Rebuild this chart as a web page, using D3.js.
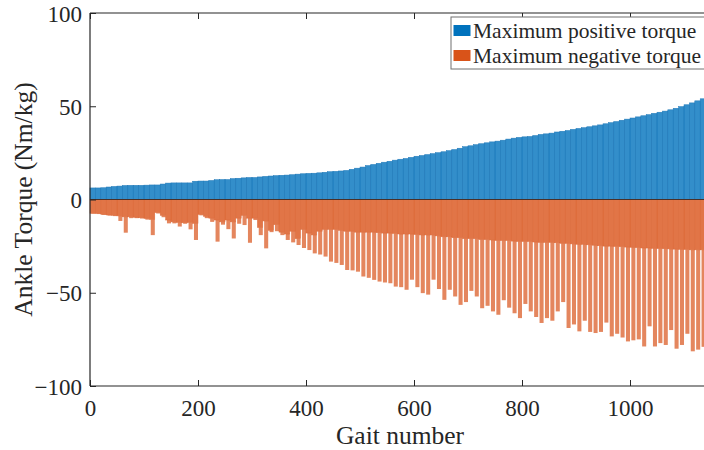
<!DOCTYPE html>
<html>
<head>
<meta charset="utf-8">
<script src="https://cdn.jsdelivr.net/npm/d3@7"></script>
<style>
  body { margin: 0; background: #fff; }
  svg { display: block; }
  text { font-family: "Liberation Serif", "DejaVu Serif", "Times New Roman", Times, serif; fill: #262626; }
</style>
</head>
<body>
<svg id="chart"></svg>
<script>
// gaits are grouped in bins of 10, one bar per bin
const binSize = 10;
const binStart = d3.range(0, 1140, binSize);

// maximum positive torque per bin (Nm/kg)
const posTorque = [
  6.2, 6.2, 6.3, 6.7, 7.0, 7.2, 7.5, 7.6, 7.6, 7.6,
  7.7, 7.8, 7.8, 8.3, 8.8, 8.9, 8.9, 8.9, 8.9, 9.8,
  9.9, 9.9, 10.2, 10.6, 10.7, 10.7, 11.2, 11.4, 11.6, 11.8,
  11.8, 12.1, 12.4, 12.6, 12.8, 13.0, 13.1, 13.3, 13.6, 13.8,
  14.0, 14.1, 14.3, 14.6, 14.9, 15.1, 15.3, 15.6, 16.2, 16.8,
  17.4, 18.2, 18.8, 19.4, 20.0, 20.5, 21.1, 21.6, 22.0, 22.6,
  23.2, 23.6, 24.1, 24.6, 25.1, 25.6, 26.2, 26.8, 27.5, 28.3,
  28.8, 29.4, 29.9, 30.4, 30.9, 31.3, 31.8, 32.4, 32.9, 33.3,
  33.6, 33.8, 34.3, 34.9, 35.2, 35.6, 36.2, 36.6, 37.0, 37.6,
  38.1, 38.5, 39.0, 39.5, 40.0, 40.6, 41.2, 41.8, 42.5, 43.1,
  43.7, 44.3, 44.9, 45.5, 46.2, 46.8, 47.4, 48.1, 48.9, 49.8,
  50.8, 51.8, 52.9, 54.0
];

// negative torque: typical level in each bin
const negBase = [
  -7.4, -7.5, -8.0, -8.3, -8.5, -8.8, -9.3, -9.3, -9.5, -9.8,
  -10.2, -10.7, -7.0, -8.5, -11, -12, -12.3, -12.5, -12.3, -12.8,
  -8.0, -9.0, -10.0, -11.0, -12, -11, -12, -10, -8.5, -10,
  -10, -15, -11.5, -16.5, -13.5, -17.5, -18.5, -17, -21, -16,
  -18, -19, -17, -16, -16, -16, -16.5, -17, -17, -17.5,
  -17.5, -17.5, -17.5, -17.8, -18, -18, -18.2, -18.5, -18.5, -18.5,
  -18.8, -19, -19, -19, -19.5, -20, -20, -20.5, -20.5, -21,
  -21, -21, -21.5, -21.5, -21.7, -22, -22, -22, -22.3, -22.5,
  -22.5, -22.5, -22.8, -23, -23, -23, -23.2, -23.5, -23.5, -23.8,
  -24, -24, -24.3, -24.5, -24.8, -25, -25, -25.2, -25.3, -25.5,
  -25.6, -25.8, -26, -26, -26.2, -26.3, -26.4, -26.5, -26.6, -26.7,
  -26.8, -27, -27, -27
];

// negative torque: deepest gait in each bin
const negPeak = [
  -7.6, -7.8, -8.3, -8.6, -8.9, -11.5, -17.8, -10, -10, -10.2,
  -10.8, -19.1, -7.5, -9.5, -12.8, -12.8, -14.5, -13, -16, -21.7,
  -8.5, -10, -12, -22.6, -13.5, -15.9, -20.9, -13, -13.7, -23.2,
  -11, -19.1, -26.2, -17.5, -17, -19.1, -21.7, -23, -24.4, -26,
  -27.1, -28.9, -29.5, -30.6, -33.3, -34, -35.1, -37.8, -38, -38.7,
  -41.3, -42, -43.1, -44, -44.5, -44.9, -46.7, -47, -48.4, -43,
  -47, -50.2, -51, -43, -48, -53.8, -48.4, -52, -56.5, -55,
  -49, -52, -58.3, -57, -60, -61.8, -54, -58, -61, -63.6,
  -56, -60, -63, -66.2, -63.6, -65, -60, -55, -68.9, -67,
  -70.7, -65, -71, -71.6, -71, -66, -73.4, -72, -74, -76.1,
  -75.5, -75, -78.8, -68, -78.8, -77, -78, -70, -80, -78,
  -72, -81.4, -80.5, -79
];

const xTicks = [0, 200, 400, 600, 800, 1000];
const yTicks = [-100, -50, 0, 50, 100];
const legendLabels = ['Maximum positive torque', 'Maximum negative torque'];
const colors = ['#0072BD', '#D95319'];

const W = 704, H = 450;
const margin = {top: 13, left: 90, bottom: 64, right: -34};
const serif = '"Liberation Serif", "DejaVu Serif", "Times New Roman", Times, serif';

const svg = d3.select('#chart').attr('width', W).attr('height', H);

const x = d3.scaleLinear().domain([0, 1200]).range([margin.left, W - margin.right]);
const y = d3.scaleLinear().domain([-100, 100]).range([H - margin.bottom, margin.top]);

const plot = svg.append('g');

// positive bars
plot.selectAll('rect.pos')
  .data(binStart)
  .enter().append('rect')
    .attr('class', 'pos')
    .attr('x', d => x(d))
    .attr('width', d => x(d + binSize) - x(d))
    .attr('y', (d, i) => y(posTorque[i]))
    .attr('height', (d, i) => y(0) - y(posTorque[i]))
    .attr('fill', colors[0])
    .attr('fill-opacity', 0.8)
    .attr('stroke', '#1f78b8')
    .attr('stroke-width', 0.5);

// negative bars, solid part
plot.selectAll('rect.neg')
  .data(binStart)
  .enter().append('rect')
    .attr('class', 'neg')
    .attr('x', d => x(d))
    .attr('width', d => x(d + binSize) - x(d))
    .attr('y', y(0))
    .attr('height', (d, i) => y(negBase[i]) - y(0))
    .attr('fill', colors[1])
    .attr('fill-opacity', 0.8)
    .attr('stroke', '#dc6c3c')
    .attr('stroke-width', 0.5);

// negative bars, deepest gait in the bin
plot.selectAll('rect.spike')
  .data(binStart)
  .enter().append('rect')
    .attr('class', 'spike')
    .attr('x', d => x(d + binSize * 0.25))
    .attr('width', d => (x(d + binSize) - x(d)) * 0.75)
    .attr('y', (d, i) => y(negBase[i]))
    .attr('height', (d, i) => Math.max(0, y(negPeak[i]) - y(negBase[i])))
    .attr('fill', colors[1])
    .attr('fill-opacity', 0.7);

// baseline
plot.append('line')
  .attr('x1', x(0)).attr('x2', W)
  .attr('y1', y(0)).attr('y2', y(0))
  .attr('stroke', '#4a3028').attr('stroke-width', 1);

// axes (box style)
const axisColor = '#262626';
const xAxis = svg.append('g')
  .attr('transform', 'translate(0,' + y(-100) + ')')
  .call(d3.axisBottom(x).tickValues(xTicks).tickSize(-6).tickPadding(14).tickFormat(d3.format('d')));
const xAxisTop = svg.append('g')
  .attr('transform', 'translate(0,' + y(100) + ')')
  .call(d3.axisTop(x).tickValues(xTicks).tickSize(-6).tickFormat(''));
const yAxis = svg.append('g')
  .attr('transform', 'translate(' + x(0) + ',0)')
  .call(d3.axisLeft(y).tickValues(yTicks).tickSize(-6).tickPadding(8).tickFormat(d3.format('d')));

[xAxis, xAxisTop, yAxis].forEach(a => {
  a.attr('font-family', serif);
  a.select('.domain').attr('stroke', axisColor).attr('stroke-width', 1.2);
  a.selectAll('.tick line').attr('stroke', axisColor).attr('stroke-width', 1);
  a.selectAll('text').attr('font-size', 23).style('font-family', serif).attr('fill', axisColor);
});
yAxis.selectAll('text').attr('dy', '0.35em');
yAxis.select('.domain').attr('d', 'M0,' + y(-100) + 'V' + y(100));
xAxis.select('.domain').attr('d', 'M' + x(0) + ',0H' + (W + 40));
xAxisTop.select('.domain').attr('d', 'M' + x(0) + ',0H' + (W + 40));

// axis labels
svg.append('text')
  .attr('x', x(0) + (W - x(0)) / 2 + 3)
  .attr('y', 444)
  .attr('text-anchor', 'middle')
  .attr('font-size', 25.5)
  .style('font-family', serif)
  .text('Gait number');

svg.append('text')
  .attr('transform', 'translate(32,' + y(0) + ') rotate(-90)')
  .attr('text-anchor', 'middle')
  .attr('font-size', 25.5)
  .style('font-family', serif)
  .text('Ankle Torque (Nm/kg)');

// legend
const legend = svg.append('g').attr('transform', 'translate(451,17)');
legend.append('rect')
  .attr('width', 300).attr('height', 52)
  .attr('fill', '#fff')
  .attr('stroke', '#707070').attr('stroke-width', 1);
legendLabels.forEach((lab, i) => {
  legend.append('rect')
    .attr('x', 2.5).attr('y', 8 + i * 25)
    .attr('width', 17).attr('height', 11)
    .attr('fill', colors[i]);
  legend.append('text')
    .attr('x', 22).attr('y', 20.5 + i * 25)
    .attr('font-size', 21.5)
    .style('font-family', serif)
    .text(lab);
});
</script>
</body>
</html>
